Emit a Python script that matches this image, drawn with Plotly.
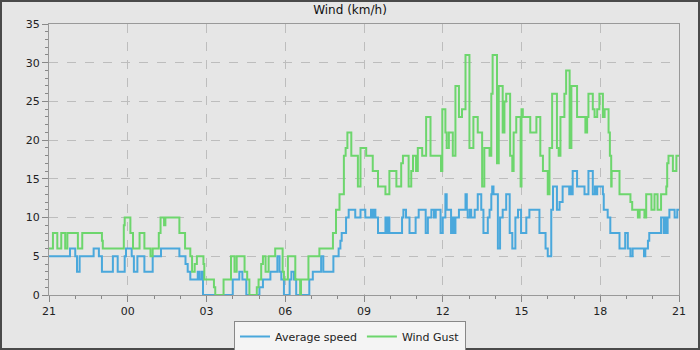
import pandas as pd
import plotly.graph_objects as go

# minutes after 21:00 (step change points) and values in km/h
avg_min = [0, 48, 60, 64, 70, 102, 114, 121, 146, 157, 173, 176, 189, 194, 202, 218, 237, 256, 298, 312,
           317, 323, 340, 344, 349, 352, 420, 435, 442, 451, 481, 489, 506, 522, 527, 531, 537, 550, 554, 560,
           565, 595, 603, 622, 627, 650, 662, 666, 669, 679, 685, 700, 712, 723, 736, 740, 743, 746, 752, 769,
           772, 775, 778, 807, 810, 816, 824, 838, 845, 861, 866, 874, 880, 884, 895, 900, 906, 909, 919, 922,
           925, 929, 937, 952, 955, 957, 962, 965, 973, 980, 988, 993, 1003, 1007, 1011, 1013, 1016, 1026, 1031, 1037,
           1045, 1053, 1059, 1066, 1072, 1079, 1091, 1098, 1121, 1135, 1140, 1148, 1152, 1161, 1167, 1174, 1189, 1192, 1194, 1197,
           1207, 1224, 1233, 1243, 1248, 1250, 1253, 1266, 1268, 1277, 1283, 1304, 1317, 1323, 1329, 1334, 1360, 1363, 1369, 1372,
           1399, 1405, 1408, 1411, 1414, 1418, 1430, 1436, 1440]
avg_kmh = [5, 6, 5, 3, 5, 6, 5, 3, 5, 3, 5, 6, 5, 3, 5, 3, 5, 6, 5, 4,
           3, 2, 3, 2, 3, 0, 2, 3, 2, 0, 1, 2, 3, 5, 3, 2, 0, 2, 3, 2,
           0, 2, 3, 5, 3, 5, 6, 7, 8, 10, 11, 10, 11, 10, 11, 10, 11, 10, 8, 10,
           8, 10, 8, 10, 11, 10, 8, 10, 11, 8, 10, 11, 10, 11, 8, 10, 13, 11, 8, 10,
           8, 10, 11, 13, 11, 10, 11, 10, 11, 13, 11, 8, 10, 11, 13, 14, 13, 6, 10, 11,
           13, 8, 6, 10, 11, 8, 10, 11, 8, 6, 5, 11, 14, 11, 12, 14, 13, 14, 13, 16,
           14, 13, 16, 13, 14, 13, 14, 13, 11, 10, 8, 6, 8, 6, 5, 6, 5, 6, 7, 8,
           10, 8, 10, 8, 10, 11, 10, 11, 11]

gust_min = [0, 9, 19, 28, 37, 42, 66, 76, 121, 123, 171, 173, 186, 192, 207, 218, 232, 237, 251, 255,
            263, 266, 298, 311, 323, 327, 333, 338, 353, 355, 377, 380, 399, 416, 424, 429, 447, 453, 458, 475,
            479, 485, 489, 495, 502, 517, 534, 537, 546, 563, 574, 576, 593, 618, 649, 656, 664, 674, 678, 682,
            691, 706, 712, 725, 740, 752, 769, 778, 794, 805, 809, 822, 828, 832, 839, 843, 853, 862, 872, 896,
            899, 906, 909, 914, 923, 929, 937, 944, 952, 961, 970, 980, 990, 995, 1007, 1011, 1014, 1024, 1028, 1037,
            1041, 1045, 1054, 1059, 1062, 1068, 1078, 1080, 1083, 1100, 1114, 1123, 1129, 1140, 1144, 1150, 1161, 1165, 1169, 1178,
            1182, 1190, 1194, 1207, 1226, 1230, 1233, 1243, 1247, 1253, 1258, 1266, 1270, 1279, 1282, 1285, 1286, 1304, 1329, 1333,
            1346, 1350, 1361, 1365, 1377, 1384, 1391, 1399, 1411, 1413, 1416, 1426, 1434, 1440]
gust_kmh = [6, 8, 6, 8, 6, 8, 6, 8, 7, 6, 9, 10, 8, 6, 8, 6, 5, 6, 8, 10,
            9, 10, 8, 6, 5, 3, 4, 5, 4, 2, 1, 0, 2, 5, 3, 5, 3, 2, 0, 1,
            2, 4, 5, 3, 5, 6, 3, 2, 5, 2, 0, 2, 5, 6, 8, 11, 13, 18, 19, 21,
            18, 14, 19, 18, 16, 14, 13, 16, 14, 17, 18, 14, 16, 18, 16, 19, 18, 23, 18, 16,
            24, 21, 19, 21, 18, 27, 23, 24, 31, 19, 23, 21, 14, 19, 18, 26, 31, 17, 27, 21,
            25, 26, 18, 16, 21, 23, 14, 24, 23, 21, 23, 18, 16, 13, 19, 26, 19, 18, 23, 26,
            29, 19, 27, 23, 21, 23, 26, 24, 23, 24, 26, 23, 24, 21, 18, 14, 16, 13, 12, 11,
            10, 11, 10, 13, 11, 13, 11, 13, 14, 17, 18, 16, 18, 18]

series_names = ["Average speed", "Wind Gust"]
y_ticks = [0, 5, 10, 15, 20, 25, 30, 35]

start = pd.Timestamp("2024-05-01 21:00")
end = start + pd.Timedelta(hours=24)

def to_time(mins):
    return [start + pd.Timedelta(minutes=m) for m in mins]

fig = go.Figure()
fig.add_trace(go.Scatter(x=to_time(avg_min), y=avg_kmh, mode="lines", name=series_names[0],
                         line=dict(color="#4aa8dc", width=2, shape="hv")))
fig.add_trace(go.Scatter(x=to_time(gust_min), y=gust_kmh, mode="lines", name=series_names[1],
                         line=dict(color="#6dd66d", width=2, shape="hv")))

L, R, T, B = 49, 21, 24, 55
W, H = 700, 350
pw, ph = W - L - R, H - T - B

fig.update_layout(
    width=W, height=H,
    margin=dict(l=L, r=R, t=T, b=B, pad=0, autoexpand=False),
    paper_bgcolor="#e6e6e6", plot_bgcolor="#e6e6e6",
    font=dict(family="DejaVu Sans", size=11, color="#222"),
    title=dict(text="Wind (km/h)", x=0.5, xref="container", y=1 - 10 / H, yref="container",
               yanchor="middle", font=dict(size=12, color="#111")),
    showlegend=True,
    legend=dict(orientation="h", x=(W / 2 - L) / pw, xanchor="center", y=(H - B - 321) / ph, yanchor="top",
                bgcolor="#f4f4f4", bordercolor="#888", borderwidth=1, font=dict(size=11, color="#222"),
                itemwidth=30, tracegroupgap=0),
    shapes=[dict(type="rect", xref="paper", yref="paper",
                 x0=(-L + 1) / pw, x1=(W - L - 1) / pw, y0=(-B + 1) / ph, y1=(ph + T - 1) / ph,
                 line=dict(color="#4a4a4a", width=2), fillcolor="rgba(0,0,0,0)", layer="above")],
)
fig.update_xaxes(
    type="date", range=[start, end], tickformat="%H", dtick=3 * 3600000, tick0=start,
    ticks="outside", ticklen=6, tickcolor="#888", showline=True, linecolor="#999", linewidth=1, mirror=True,
    showgrid=True, gridcolor="#bdbdbd", griddash="dash", gridwidth=1, zeroline=False,
    minor=dict(dtick=3600000, ticklen=3, tickcolor="#888", ticks="outside", showgrid=False),
    tickfont=dict(size=11, color="#222"), automargin=False,
)
fig.update_yaxes(
    range=[0, 35], tickvals=y_ticks, ticks="outside", ticklen=6, tickcolor="#888",
    showline=True, linecolor="#999", linewidth=1, mirror=True,
    showgrid=True, gridcolor="#bdbdbd", griddash="dash", gridwidth=1, zeroline=False,
    minor=dict(dtick=1, ticklen=3, tickcolor="#888", ticks="outside", showgrid=False),
    tickfont=dict(size=11, color="#222"), automargin=False,
)

fig.write_html("out.html", config={"displayModeBar": False},
               post_script="document.body.style.margin='0';")
